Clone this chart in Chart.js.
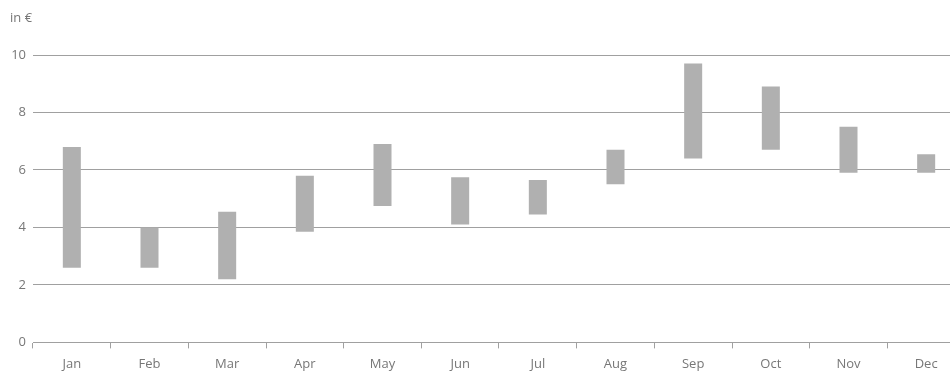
<!DOCTYPE html>
<html>
<head>
<meta charset="utf-8">
<script src="https://cdn.jsdelivr.net/npm/chart.js@4.4.1/dist/chart.umd.min.js"></script>
<style>
  html, body { margin: 0; padding: 0; background: #ffffff; overflow: hidden; width: 950px; height: 387px; }
  #wrap { position: absolute; left: 0; top: 0; width: 970px; height: 387px; }
  #unit { position: absolute; left: 10px; top: 8px; font: 13px "Open Sans", sans-serif; color: #777777; }
</style>
</head>
<body>
<div id="wrap"><canvas id="chart" width="970" height="387"></canvas></div>
<div id="unit">in €</div>
<script>
// Monthly price range (low to high), in euro
const months = ['Jan', 'Feb', 'Mar', 'Apr', 'May', 'Jun', 'Jul', 'Aug', 'Sep', 'Oct', 'Nov', 'Dec'];
const lowPrices  = [2.6, 2.6, 2.2, 3.85, 4.75, 4.1, 4.45, 5.5, 6.4, 6.7, 5.9, 5.9];
const highPrices = [6.8, 4.0, 4.55, 5.8, 6.9, 5.75, 5.65, 6.7, 9.7, 8.9, 7.5, 6.55];
const yTicks = [0, 2, 4, 6, 8, 10];

const ranges = months.map((m, i) => [lowPrices[i], highPrices[i]]);

const labelFont = { family: '"Open Sans", sans-serif', size: 13 };
const textColor = '#777777';
const lineColor = '#a0a0a0';

new Chart(document.getElementById('chart'), {
  type: 'bar',
  data: {
    labels: months,
    datasets: [{
      data: ranges,
      backgroundColor: '#b0b0b0',
      borderWidth: 0,
      barPercentage: 0.232,
      categoryPercentage: 1
    }]
  },
  options: {
    responsive: false,
    animation: false,
    layout: { padding: { top: 55, right: 5, bottom: 7, left: 0 } },
    plugins: { legend: { display: false }, tooltip: { enabled: false }, title: { display: false } },
    scales: {
      x: {
        grid: { drawOnChartArea: false, drawTicks: true, tickLength: 6, color: lineColor, offset: true },
        border: { display: true, color: lineColor, width: 1 },
        ticks: { font: labelFont, color: textColor, padding: 8, maxRotation: 0 }
      },
      y: {
        min: yTicks[0],
        max: yTicks[yTicks.length - 1],
        afterFit: (scale) => { scale.width = 33; },
        afterBuildTicks: (scale) => { scale.ticks = yTicks.map(v => ({ value: v })); },
        grid: { drawTicks: false, color: lineColor, lineWidth: 1 },
        border: { display: false },
        ticks: { font: labelFont, color: textColor, padding: 7 }
      }
    }
  }
});
</script>
</body>
</html>
